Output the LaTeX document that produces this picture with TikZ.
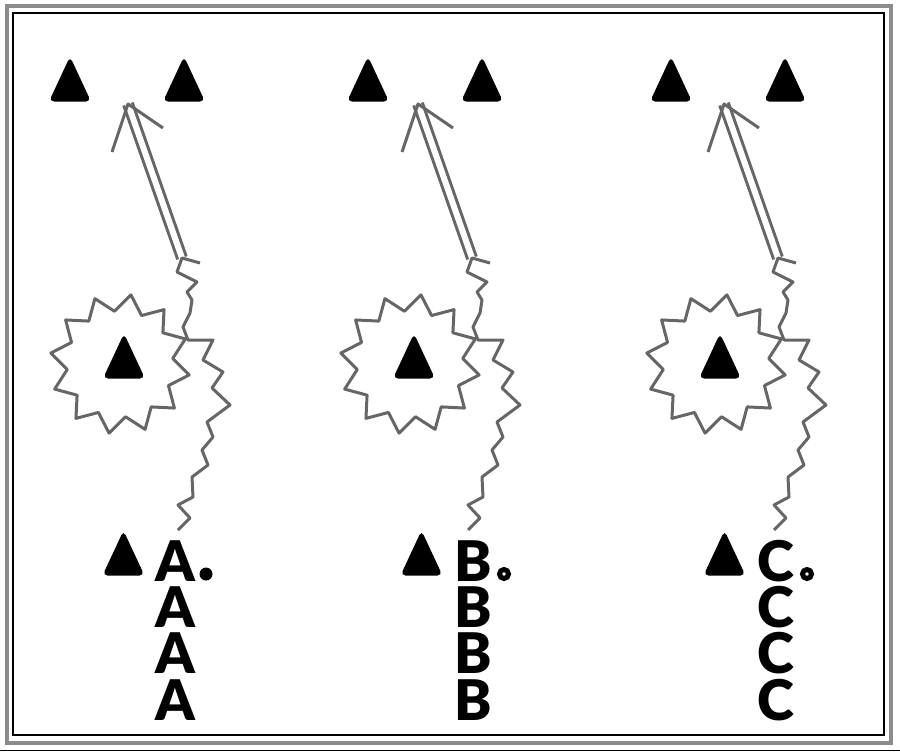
\documentclass[tikz,border=0pt]{standalone}
\usepackage{fontspec}
\setmainfont{Lato}
\newfontfamily\heavy{Lato Black}
\usetikzlibrary{shapes,calc}

\begin{document}
\begin{tikzpicture}[x=1pt,y=-1pt,
  tri/.style={minimum width=42pt, minimum height=45pt, inner sep=0pt,
    path picture={\fill[rounded corners=5pt] (path picture bounding box.south)
      -- (path picture bounding box.south east) -- (path picture bounding box.north)
      -- (path picture bounding box.south west) -- cycle;}},
  letter/.style={font=\heavy\fontsize{56}{56}\selectfont, inner sep=0pt,
    text height=41pt, text depth=0pt, anchor=base},
  burst/.style={star, star points=12, star point ratio=1.32, minimum size=140pt,
    inner sep=0pt, draw=black!60, line width=3pt, line join=round, shape border rotate=-9},
  wave/.style={draw=black!60, line width=3pt, line join=round},
  dbl/.style={draw=black!60, double=white, double distance=6pt, line width=3pt},
  dotfull/.style={circle, fill, inner sep=0pt, minimum size=13pt},
  dotring/.style={circle, draw, line width=5pt, inner sep=0pt, minimum size=9pt}
]
\useasboundingbox (0,0) rectangle (900,752);
% frame
\draw[black!45, line width=4pt] (6.5,6.5) rectangle (890.5,742.5);
\draw[line width=1.2pt] (13,13) rectangle (884,735);
\draw[line width=1pt] (0,750) -- (900,750);

\foreach \o/\s/\L/\d in {0/0/A/dotfull, 298/-8/B/dotring, 601/-5/C/dotring}{
  \begin{scope}[xshift=\o pt]
    \node[tri] (tl\L) at (70,79) {};
    \node[tri] (tr\L) at (184,79) {};
    \node[tri] (lo\L) at (123.5,553) {};
    \node[letter] (\L1) at (175,581) {\L};
    \node[letter] (\L2) at (175,627) {\L};
    \node[letter] (\L3) at (175,673) {\L};
    \node[letter] (\L4) at (175,720) {\L};
    \node[\d] (dot\L) at (206,574) {};
    \begin{scope}[xshift=\s pt]
      \node[burst] (star\L) at (120,364) {};
      \node[tri] (mid\L) at (124,356) {};
      \coordinate (tail\L) at (182,258);
      \coordinate (tip\L) at (128,104);
      % photon
      \draw[dbl] (tail\L) -- (tip\L);
      \draw[wave] ($(tip\L)+(-16,48)$) -- (tip\L) -- ($(tip\L)+(35,24)$);
      % chain
      \draw[wave] (200,263) -- (tail\L) -- (177,272) -- (197,282) -- (187,292)
        -- (192,300) -- (190,313) -- (183,327) -- (188,340) -- (213,340)
        -- (203,360) -- (223,372) -- (212,388) -- (230,405) -- (207,422)
        -- (213,437) -- (202,450) -- (208,465) -- (192,477) -- (193,497)
        -- (178,505) -- (190,518) -- (178,530);
    \end{scope}
  \end{scope}
}
\end{tikzpicture}
\end{document}
